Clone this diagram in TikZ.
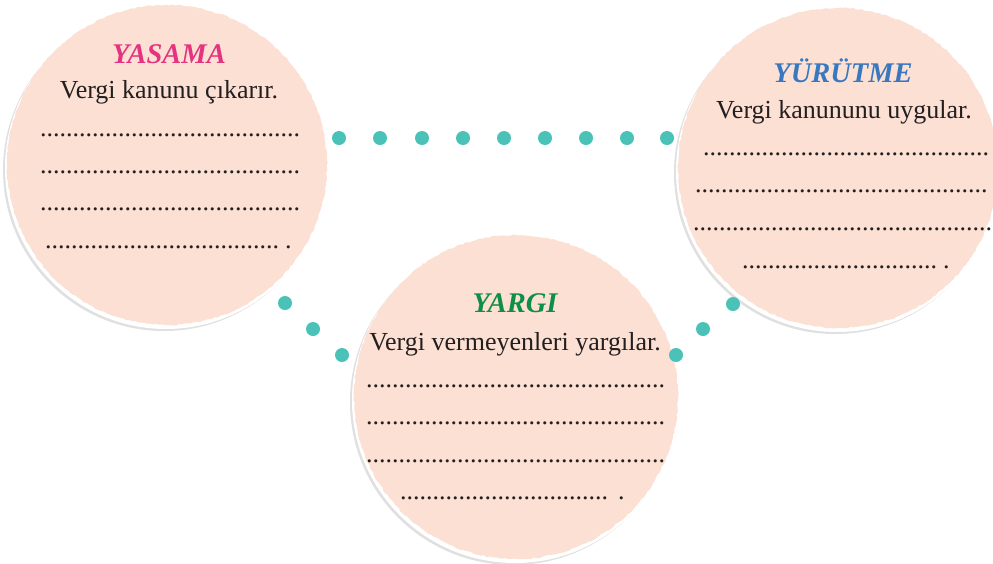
\documentclass[tikz,border=0pt]{standalone}
\usepackage{fontspec}
\setmainfont{Liberation Serif}
\usetikzlibrary{decorations.pathmorphing}
\definecolor{peach}{HTML}{FCE0D3}
\definecolor{tealdot}{HTML}{4BC2B7}
\definecolor{pinkt}{HTML}{E5337F}
\definecolor{bluet}{HTML}{3778C0}
\definecolor{greent}{HTML}{0E8F47}
\definecolor{inkt}{HTML}{231F20}
\newcommand\mydots[1]{\foreach \i in {1,...,#1}{.}}
\tikzset{
  blob/.style={circle, minimum size=#1, inner sep=0pt, fill=peach,
    decorate, decoration={random steps, segment length=3pt, amplitude=0.7pt}},
  shadowc/.style={fill=black!12},
  edgec/.style={fill=white},
  tdot/.style={circle, fill=tealdot, minimum size=14pt, inner sep=0pt},
  ttl/.style={anchor=base, inner sep=0pt, font=\fontsize{28.5}{31}\selectfont\bfseries\itshape},
  txt/.style={anchor=base, inner sep=0pt, text=inkt, font=\fontsize{26}{30}\selectfont},
  dotrow/.style={anchor=base west, inner sep=0pt, text=inkt, font=\fontsize{26}{30}\selectfont},
}
\begin{document}
\begin{tikzpicture}[x=1pt,y=-1pt]
\useasboundingbox (0,0) rectangle (993,563);
\clip (0,0) rectangle (993,563);
% shadows and torn edges
\fill[shadowc] (164,170) circle[radius=161pt];
\fill[edgec] (166,168) circle[radius=161pt];
\fill[shadowc] (835,173) circle[radius=161pt];
\fill[edgec] (837,171) circle[radius=161pt];
\fill[shadowc] (513,402) circle[radius=163pt];
\fill[edgec] (515,400) circle[radius=163pt];
% circles
\node[blob=320pt] (cyasama) at (167,165) {};
\node[blob=320pt] (cyurutme) at (838,168) {};
\node[blob=324pt] (cyargi) at (516,397) {};
% dots
\foreach \x [count=\k] in {339,380,422,463,504,545,586,627,667}
  \node[tdot] (t\k) at (\x,138) {};
\node[tdot] (l1) at (285,303) {};
\node[tdot] (l2) at (313,329) {};
\node[tdot] (l3) at (342,355) {};
\node[tdot] (r1) at (733,304) {};
\node[tdot] (r2) at (703,329) {};
\node[tdot] (r3) at (676,355) {};
% YASAMA
\node[ttl, text=pinkt] (h1) at (169,63) {YASAMA};
\node[txt] (s1) at (169,98) {Vergi kanunu çıkarır.};
\node[dotrow] (a1) at (40,136) {\mydots{40}};
\node[dotrow] (a2) at (40,173) {\mydots{40}};
\node[dotrow] (a3) at (40,210) {\mydots{40}};
\node[dotrow] (a4) at (45,248) {\mydots{36}\hspace{6pt}.};
% YURUTME
\node[ttl, text=bluet] (h2) at (843,82) {YÜRÜTME};
\node[txt] (s2) at (844,118) {Vergi kanununu uygular.};
\node[dotrow] (b1) at (703,155) {\mydots{44}};
\node[dotrow] (b2) at (695,192) {\mydots{45}};
\node[dotrow] (b3) at (693,230) {\mydots{46}};
\node[dotrow] (b4) at (742,268) {\mydots{30}\hspace{6pt}.};
% YARGI
\node[ttl, text=greent] (h3) at (515,312) {YARGI};
\node[txt] (s3) at (515,350) {Vergi vermeyenleri yargılar.};
\node[dotrow] (c1) at (366,387) {\mydots{46}};
\node[dotrow] (c2) at (366,424) {\mydots{46}};
\node[dotrow] (c3) at (366,462) {\mydots{46}};
\node[dotrow] (c4) at (400,499) {\mydots{32}\hspace{10pt}.};
\end{tikzpicture}
\end{document}
